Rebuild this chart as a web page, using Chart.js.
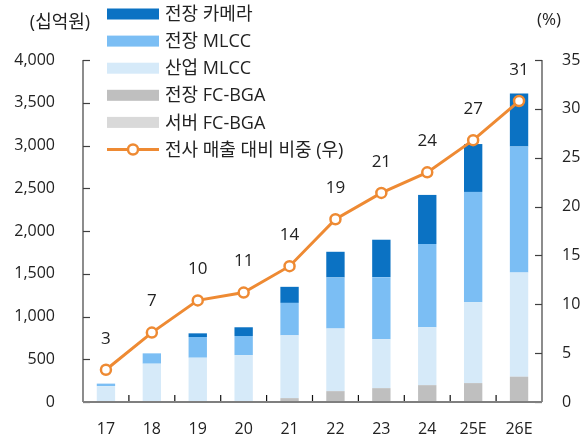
<!DOCTYPE html>
<html><head><meta charset="utf-8">
<script src="https://cdn.jsdelivr.net/npm/chart.js@4/dist/chart.umd.min.js"></script>
<style>html,body{margin:0;padding:0;background:#fff;}canvas{display:block;}</style>
</head><body>
<canvas id="c" width="587" height="442"></canvas>
<script>
const categories = ['17','18','19','20','21','22','23','24','25E','26E'];
const serverFcBga = [0,0,0,0,0,0,0,0,0,0];
const autoFcBga = [0,0,0,0,45,127,162,197,221,296];
const industrialMlcc = [185,448,518,549,735,732,571,677,946,1220];
const autoMlcc = [30,121,242,223,379,598,727,974,1290,1473];
const autoCamera = [0,0,43,102,188,300,438,574,560,618];
const shareOfSales = [3.3,7.1,10.4,11.2,13.9,18.7,21.4,23.5,26.8,30.8];
const shareLabels = ['3','7','10','11','14','19','21','24','27','31'];
const leftTicks = [0,500,1000,1500,2000,2500,3000,3500,4000];
const rightTicks = [0,5,10,15,20,25,30,35];

const FONT = "'Open Sans','Noto Sans CJK KR',sans-serif";
const TXT = '#222';
const ORANGE = '#EE8A33';

const legendItems = [
  {label:'전장 카메라', color:'#0B72C3', type:'bar'},
  {label:'전장 MLCC', color:'#7BBEF4', type:'bar'},
  {label:'산업 MLCC', color:'#D6EAF9', type:'bar'},
  {label:'전장 FC-BGA', color:'#BFBFBF', type:'bar'},
  {label:'서버 FC-BGA', color:'#D9D9D9', type:'bar'},
  {label:'전사 매출 대비 비중 (우)', color:ORANGE, type:'line'}
];

const overlay = {
  id:'overlay',
  afterDraw(chart){
    const ctx = chart.ctx, a = chart.chartArea;
    const x = chart.scales.x, y = chart.scales.y, y1 = chart.scales.y1;
    ctx.save();
    // left axis
    ctx.strokeStyle = '#404040'; ctx.lineWidth = 1.2;
    ctx.beginPath(); ctx.moveTo(a.left, y.getPixelForValue(4000)); ctx.lineTo(a.left, a.bottom); ctx.stroke();
    leftTicks.forEach(v=>{const py=Math.round(y.getPixelForValue(v))+0.5; ctx.beginPath(); ctx.moveTo(a.left,py); ctx.lineTo(a.left+7,py); ctx.stroke();});
    // right axis
    ctx.beginPath(); ctx.moveTo(a.right, y1.getPixelForValue(35)); ctx.lineTo(a.right, a.bottom); ctx.stroke();
    rightTicks.forEach(v=>{const py=Math.round(y1.getPixelForValue(v))+0.5; ctx.beginPath(); ctx.moveTo(a.right,py); ctx.lineTo(a.right-7,py); ctx.stroke();});
    // x ticks
    ctx.strokeStyle = '#111'; ctx.lineWidth = 1.2;
    for(let i=0;i<categories.length-1;i++){
      const px = (x.getPixelForValue(i)+x.getPixelForValue(i+1))/2;
      ctx.beginPath(); ctx.moveTo(px, a.bottom); ctx.lineTo(px, a.bottom-7); ctx.stroke();
    }
    // baseline
    ctx.strokeStyle = '#7F7F7F'; ctx.lineWidth = 2;
    ctx.beginPath(); ctx.moveTo(a.left, a.bottom); ctx.lineTo(a.right, a.bottom); ctx.stroke();
    // data labels
    const meta = chart.getDatasetMeta(5);
    ctx.fillStyle = TXT; ctx.font = '17px '+FONT; ctx.textAlign='center'; ctx.textBaseline='middle';
    meta.data.forEach((pt,i)=>{ ctx.fillText(shareLabels[i], pt.x, pt.y-31); });
    // unit labels
    ctx.font = '18px '+FONT;
    ctx.fillText('(십억원)', 60, 23);
    ctx.font = '17px '+FONT;
    ctx.fillText('(%)', 549, 20);
    // legend
    ctx.textAlign='left';
    ctx.font = '18px '+FONT;
    legendItems.forEach((it,i)=>{
      const cy = 14 + i*27.1;
      if(it.type==='bar'){
        ctx.fillStyle = it.color; ctx.fillRect(107, cy-5.5, 52, 11);
      } else {
        ctx.strokeStyle = it.color; ctx.lineWidth = 3;
        ctx.beginPath(); ctx.moveTo(107, cy); ctx.lineTo(159, cy); ctx.stroke();
        ctx.fillStyle='#fff'; ctx.lineWidth=2.5;
        ctx.beginPath(); ctx.arc(133, cy, 5, 0, Math.PI*2); ctx.fill(); ctx.stroke();
      }
      ctx.fillStyle = TXT; ctx.fillText(it.label, 165, cy+1);
    });
    ctx.restore();
  }
};

const barDs = (label, data, color) => ({type:'bar', label, data, backgroundColor:color, yAxisID:'y', stack:'s', order:2,
  barPercentage:0.4, categoryPercentage:1.0, borderWidth:0});

new Chart(document.getElementById('c'), {
  data:{
    labels: categories,
    datasets:[
      barDs('서버 FC-BGA', serverFcBga, '#D9D9D9'),
      barDs('전장 FC-BGA', autoFcBga, '#BFBFBF'),
      barDs('산업 MLCC', industrialMlcc, '#D6EAF9'),
      barDs('전장 MLCC', autoMlcc, '#7BBEF4'),
      barDs('전장 카메라', autoCamera, '#0B72C3'),
      {type:'line', label:'전사 매출 대비 비중 (우)', data:shareOfSales, yAxisID:'y1', order:1,
       borderColor:ORANGE, borderWidth:3, pointRadius:5, pointBorderWidth:2.5, pointBackgroundColor:'#fff',
       pointBorderColor:ORANGE, tension:0}
    ]
  },
  options:{
    responsive:false, animation:false, devicePixelRatio:1,
    layout:{padding:{top:60,left:0,right:0,bottom:0}},
    plugins:{legend:{display:false}, tooltip:{enabled:false}},
    scales:{
      x:{stacked:true, grid:{display:false, drawTicks:false}, border:{display:false},
         ticks:{color:TXT, font:{family:FONT,size:16}, padding:18},
         afterFit(s){s.height=40;}},
      y:{stacked:true, position:'left', min:0, max:4000, grid:{display:false, drawTicks:false}, border:{display:false},
         afterBuildTicks(s){s.ticks = leftTicks.map(v=>({value:v}));},
         ticks:{color:TXT, font:{family:FONT,size:16}, padding:28, callback:v=>v.toLocaleString('en-US')},
         afterFit(s){s.width=83;}},
      y1:{position:'right', min:0, max:35, grid:{display:false, drawTicks:false}, border:{display:false},
         afterBuildTicks(s){s.ticks = rightTicks.map(v=>({value:v}));},
         ticks:{color:TXT, font:{family:FONT,size:16}, padding:20},
         afterFit(s){s.width=45;}}
    }
  },
  plugins:[overlay]
});
</script>
</body></html>
